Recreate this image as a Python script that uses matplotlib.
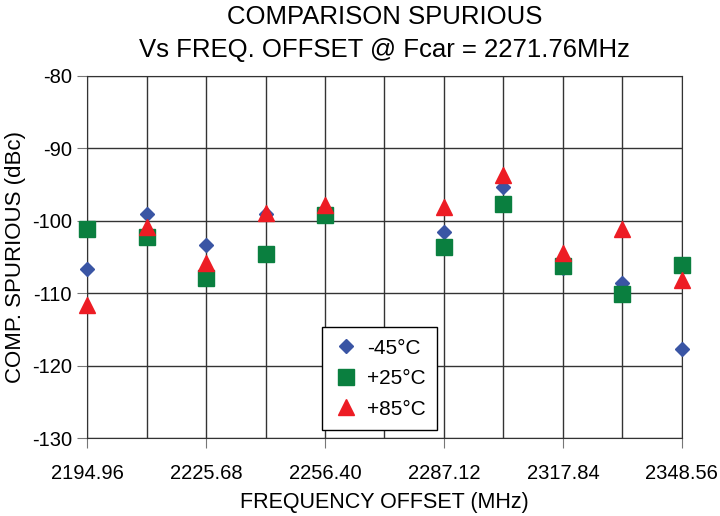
import matplotlib.pyplot as plt

# frequency offsets (MHz)
freq = [2194.96, 2210.32, 2225.68, 2241.04, 2256.40,
        2287.12, 2302.48, 2317.84, 2333.20, 2348.56]

spur_m45 = [-106.6, -99.1, -103.3, -99.0, -99.0,
            -101.5, -95.4, -106.5, -108.6, -117.7]
spur_p25 = [-101.2, -102.3, -107.9, -104.6, -99.2,
            -103.6, -97.7, -106.2, -110.1, -106.1]
spur_p85 = [-111.6, -100.8, -105.8, -98.9, -97.8,
            -98.1, -93.7, -104.4, -101.2, -108.2]

xticks = [2194.96, 2225.68, 2256.40, 2287.12, 2317.84, 2348.56]
xtick_labels = ["2194.96", "2225.68", "2256.40", "2287.12", "2317.84", "2348.56"]
yticks = [-130, -120, -110, -100, -90, -80]

plt.rcParams['font.family'] = ['Liberation Sans', 'DejaVu Sans']
plt.rcParams['axes.unicode_minus'] = False

fig = plt.figure(figsize=(7.2, 5.16), dpi=100)
ax = fig.add_axes([0.121, 0.151, 0.826, 0.702])

ax.plot(freq, spur_m45, linestyle='none', marker='D', markersize=7.5,
        color='#3a55a4', label='-45°C', zorder=3, clip_on=False)
ax.plot(freq, spur_p25, linestyle='none', marker='s', markersize=11,
        color='#0a7f3f', label='+25°C', zorder=3, clip_on=False)
ax.plot(freq, spur_p85, linestyle='none', marker='^', markersize=11.5,
        color='#ed1c24', label='+85°C', zorder=4, clip_on=False)

ax.set_xlim(2194.96, 2348.56)
ax.set_ylim(-130, -80)
ax.set_xticks(xticks)
ax.set_xticklabels(xtick_labels)
ax.set_xticks([2210.32, 2241.04, 2271.76, 2302.48, 2333.20], minor=True)
ax.set_yticks(yticks)
ax.tick_params(axis='both', which='major', length=7, color='#777777',
               labelsize=14.5, direction='out')
ax.tick_params(axis='x', which='major', pad=12)
ax.tick_params(axis='y', which='major', pad=4)
ax.tick_params(axis='both', which='minor', length=0)
ax.grid(True, which='both', color='#333333', linewidth=1.0)
ax.set_axisbelow(True)
for s in ax.spines.values():
    s.set_color('#333333')

ax.set_xlabel("FREQUENCY OFFSET (MHz)", fontsize=15.5, labelpad=6)
ax.set_ylabel("COMP. SPURIOUS (dBc)", fontsize=16, labelpad=4)
fig.suptitle("COMPARISON SPURIOUS\nVs FREQ. OFFSET @ Fcar = 2271.76MHz",
             fontsize=18.5, x=0.534, y=0.99, linespacing=1.45)

leg = ax.legend(loc='lower left', bbox_to_anchor=(0.395, 0.022),
                fontsize=15, frameon=True, fancybox=False, borderpad=0.55,
                labelspacing=0.55, handletextpad=0.4, handlelength=1.2,
                borderaxespad=0)
leg.get_frame().set_edgecolor('black')
leg.get_frame().set_linewidth(1.0)
leg.get_frame().set_alpha(1)

fig.savefig("out.png", dpi=100)
